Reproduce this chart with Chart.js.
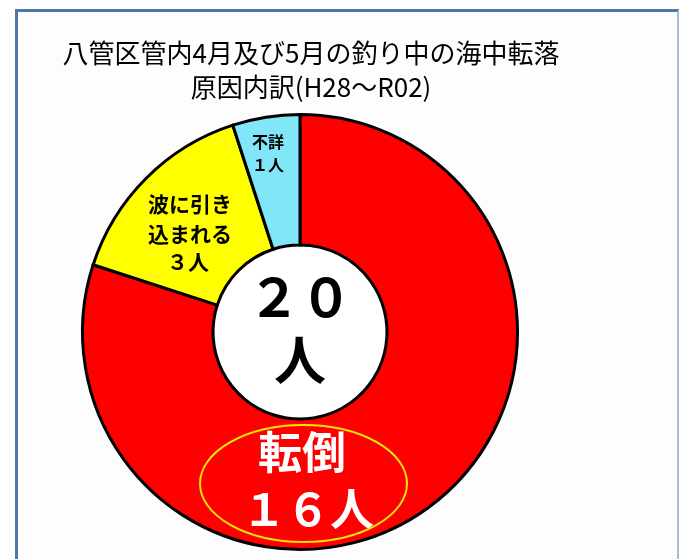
<!DOCTYPE html>
<html><head><meta charset="utf-8">
<script src="https://cdn.jsdelivr.net/npm/chart.js@4/dist/chart.umd.min.js"></script>
<style>
html,body{margin:0;padding:0;background:#fff;width:679px;height:559px;overflow:hidden;}
#frame{position:absolute;left:15px;top:9px;width:659px;height:600px;border-left:3px solid #4a79aa;border-top:3px solid #4a79aa;border-right:2px solid #a9bdd5;background:#fdfdfd;}
#wrap{position:absolute;left:0;top:0;width:679px;height:559px;}
</style></head>
<body>
<div id="frame"></div>
<div id="wrap"><canvas id="c" width="679" height="559"></canvas></div>
<script>
const titleLines = ["八管区管内4月及び5月の釣り中の海中転落", "原因内訳(H28～R02)"];
const categories = ["転倒", "波に引き込まれる", "不詳"];
const counts = [16, 3, 1];
const sliceColors = ["#ff0000", "#ffff00", "#80e6f8"];
const sliceLabels = [["転倒", "１６人"], ["波に引き", "込まれる", "３人"], ["不詳", "１人"]];
const totalLabel = ["２０", "人"];

const JP = '"Liberation Sans Narrow", "Noto Sans CJK JP", sans-serif';

const labelPlugin = {
  id: 'labels',
  afterDatasetsDraw(chart) {
    const ctx = chart.ctx;
    const arc0 = chart.getDatasetMeta(0).data[0];
    const cx = arc0.x, cy = arc0.y;
    ctx.save();
    ctx.textAlign = 'center';
    ctx.textBaseline = 'middle';
    // title
    ctx.fillStyle = '#000';
    ctx.font = '26px ' + JP;
    ctx.fillText(titleLines[0], cx + 11, 53);
    ctx.fillText(titleLines[1], cx + 11, 87);
    // center total
    ctx.font = 'bold 52px "Noto Sans CJK JP", sans-serif';
    ctx.fillText(totalLabel[0], cx, cy - 35);
    ctx.fillText(totalLabel[1], cx, cy + 28);
    // 不詳
    ctx.font = 'bold 16px "Noto Sans CJK JP", sans-serif';
    ctx.fillText(sliceLabels[2][0], cx - 32, cy - 190);
    ctx.fillText(sliceLabels[2][1], cx - 32, cy - 167);
    // 波に引き込まれる
    ctx.font = 'bold 21px "Noto Sans CJK JP", sans-serif';
    ctx.fillText(sliceLabels[1][0], cx - 110, cy - 128);
    ctx.fillText(sliceLabels[1][1], cx - 110, cy - 98);
    ctx.fillText(sliceLabels[1][2], cx - 112, cy - 70);
    // 転倒
    ctx.fillStyle = '#fff';
    ctx.font = 'bold 44px "Noto Sans CJK JP", sans-serif';
    ctx.fillText(sliceLabels[0][0], cx + 2, cy + 120);
    ctx.fillText(sliceLabels[0][1], cx + 8, cy + 177);
    // ellipse
    ctx.strokeStyle = '#f2e600';
    ctx.lineWidth = 2;
    ctx.beginPath();
    ctx.ellipse(cx + 3.5, cy + 151.5, 103.5, 58.5, 0, 0, Math.PI * 2);
    ctx.stroke();
    ctx.restore();
  }
};

const holePlugin = {
  id: 'hole',
  beforeDatasetsDraw(chart) {
    const a = chart.getDatasetMeta(0).data[0];
    const ctx = chart.ctx;
    ctx.save();
    ctx.fillStyle = '#ffffff';
    ctx.beginPath();
    ctx.arc(a.x, a.y, a.innerRadius, 0, Math.PI * 2);
    ctx.fill();
    ctx.restore();
  }
};

new Chart(document.getElementById('c'), {
  type: 'doughnut',
  data: {
    labels: categories,
    datasets: [{
      data: counts,
      backgroundColor: sliceColors,
      borderColor: '#000',
      borderWidth: 3,
      borderJoinStyle: 'miter'
    }]
  },
  options: {
    responsive: false,
    animation: false,
    cutout: '40%',
    rotation: 0,
    layout: { padding: { top: 113, bottom: 8, left: 81, right: 160 } },
    plugins: { legend: { display: false }, tooltip: { enabled: false }, title: { display: false } }
  },
  plugins: [holePlugin, labelPlugin]
});
</script>
</body></html>
